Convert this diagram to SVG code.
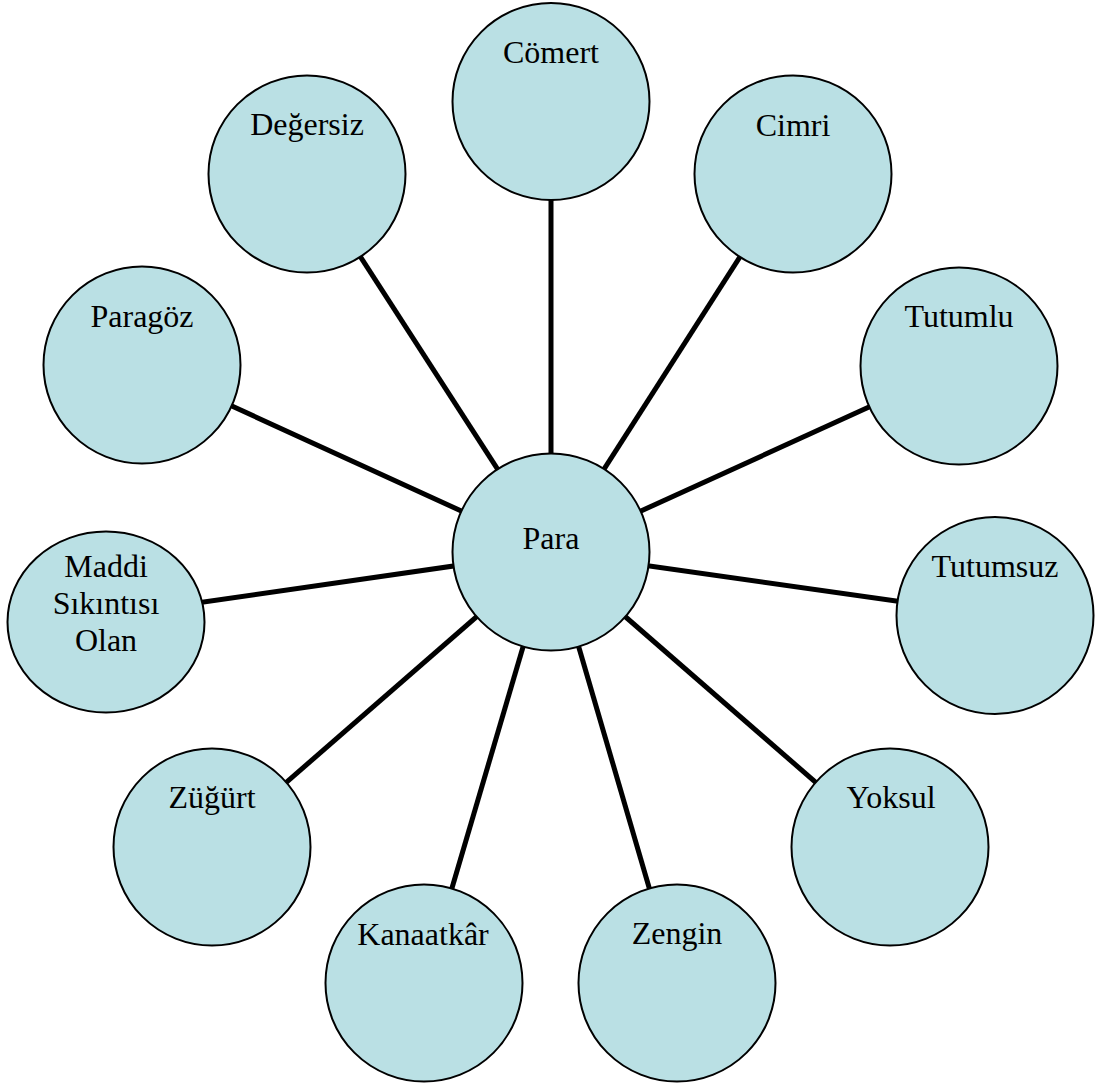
<svg xmlns="http://www.w3.org/2000/svg" width="1101" height="1084" viewBox="0 0 1101 1084">
<style>
.n{fill:#BAE0E4;stroke:#000;stroke-width:2}
.t{font-family:"Liberation Serif","Times New Roman",serif;font-size:32px;fill:#000;text-anchor:middle}
.c line{stroke:#000;stroke-width:5}
</style>
<rect width="1101" height="1084" fill="#fff"/>
<g id="connectors" class="c">
<line x1="551" y1="552" x2="551" y2="101"/>
<line x1="551" y1="552" x2="793" y2="174"/>
<line x1="551" y1="552" x2="959" y2="366"/>
<line x1="551" y1="552" x2="995" y2="615"/>
<line x1="551" y1="552" x2="890" y2="847"/>
<line x1="551" y1="552" x2="677" y2="983"/>
<line x1="551" y1="552" x2="424" y2="983"/>
<line x1="551" y1="552" x2="212" y2="847"/>
<line x1="551" y1="552" x2="106" y2="616"/>
<line x1="551" y1="552" x2="142" y2="365"/>
<line x1="551" y1="552" x2="307" y2="174"/>
</g>
<g id="node-comert"><circle class="n" cx="551" cy="101.5" r="98.5"/><text class="t" x="551" y="63">Cömert</text></g>
<g id="node-cimri"><circle class="n" cx="793" cy="174" r="98.5"/><text class="t" x="793" y="136">Cimri</text></g>
<g id="node-tutumlu"><circle class="n" cx="959" cy="366" r="98.5"/><text class="t" x="959" y="327">Tutumlu</text></g>
<g id="node-tutumsuz"><circle class="n" cx="995" cy="615.5" r="98.5"/><text class="t" x="995" y="577">Tutumsuz</text></g>
<g id="node-yoksul"><circle class="n" cx="890" cy="847" r="98.5"/><text class="t" x="891" y="808">Yoksul</text></g>
<g id="node-zengin"><circle class="n" cx="677" cy="983" r="98.5"/><text class="t" x="677" y="944">Zengin</text></g>
<g id="node-kanaatkar"><circle class="n" cx="424" cy="983" r="98.5"/><text class="t" x="423" y="945">Kanaatkâr</text></g>
<g id="node-zugurt"><circle class="n" cx="212" cy="847" r="98.5"/><text class="t" x="212" y="808">Züğürt</text></g>
<g id="node-maddi"><ellipse class="n" cx="106" cy="622" rx="98.5" ry="90.5"/><text class="t" x="106" y="577">Maddi</text><text class="t" x="106" y="614">Sıkıntısı</text><text class="t" x="106" y="651">Olan</text></g>
<g id="node-paragoz"><circle class="n" cx="142" cy="365" r="98.5"/><text class="t" x="142" y="327">Paragöz</text></g>
<g id="node-degersiz"><circle class="n" cx="307" cy="174" r="98.5"/><text class="t" x="307" y="135">Değersiz</text></g>
<g id="node-para"><circle class="n" cx="551" cy="552" r="98.5"/><text class="t" x="551" y="549">Para</text></g>
</svg>
